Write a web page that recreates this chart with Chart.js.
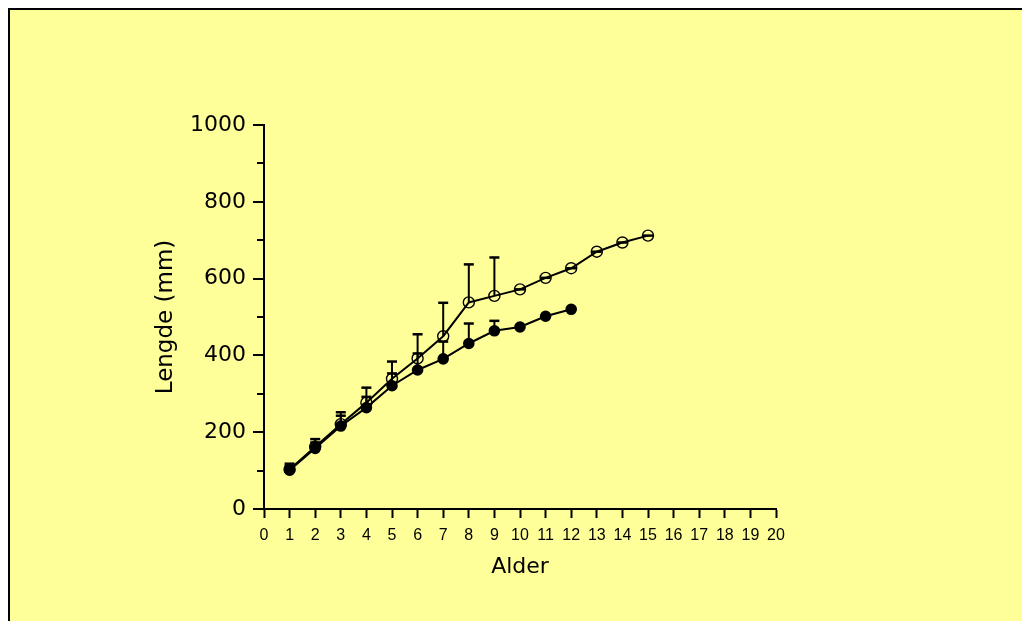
<!DOCTYPE html>
<html>
<head>
<meta charset="utf-8">
<script src="https://cdn.jsdelivr.net/npm/chart.js@4.4.1/dist/chart.umd.min.js"></script>
<style>
  html, body { margin: 0; padding: 0; background: #fff; }
  #wrap { width: 1022px; height: 621px; position: relative; }
</style>
</head>
<body>
<div id="wrap"><canvas id="vekst"></canvas></div>
<script>
// Alder (år)
const alderA = [1, 2, 3, 4, 5, 6, 7, 8, 9, 10, 11, 12, 13, 14, 15];
const alderB = [1, 2, 3, 4, 5, 6, 7, 8, 9, 10, 11, 12];

// Gjennomsnittlig lengde (mm) - åpne sirkler
const lengdeA = [103, 162, 221, 277, 339, 392, 450, 538, 555, 572, 602, 627, 670, 694, 712];
const sdA = [15, 20, 31, 39, 45, 63, 87, 99, 100, 0, 0, 0, 0, 0, 0];

// Gjennomsnittlig lengde (mm) - fylte sirkler
const lengdeB = [101, 158, 216, 264, 321, 362, 391, 431, 464, 474, 502, 520];
const sdB = [11, 15, 27, 28, 32, 43, 45, 52, 26, 0, 0, 0];

const toPts = (xs, ys) => xs.map((x, i) => ({ x: x, y: ys[i] }));
const BRED = "'DejaVu Sans', sans-serif";
const SMAL = "'Liberation Sans', Arial, sans-serif";

// bakgrunnspanel
const panel = {
  id: 'panel',
  beforeDraw(chart) {
    const c = chart.ctx;
    c.save();
    c.fillStyle = '#ffffff';
    c.fillRect(0, 0, chart.width, chart.height);
    c.fillStyle = '#ffff99';
    c.fillRect(8, 8, chart.width - 8, chart.height - 8);
    c.strokeStyle = '#000';
    c.lineWidth = 2;
    c.beginPath();
    c.moveTo(9, chart.height);
    c.lineTo(9, 9);
    c.lineTo(chart.width, 9);
    c.stroke();
    c.restore();
  }
};

// y-aksens hoved- og hjelpestreker
const yTicks = {
  id: 'yTicks',
  afterDraw(chart) {
    const c = chart.ctx, y = chart.scales.y;
    const left = chart.chartArea.left;
    c.save();
    c.strokeStyle = '#000';
    c.lineWidth = 2;
    for (let v = 0; v <= 1000; v += 100) {
      const py = Math.round(y.getPixelForValue(v));
      const len = v % 200 === 0 ? 11 : 7;
      c.beginPath();
      c.moveTo(left - len, py);
      c.lineTo(left, py);
      c.stroke();
    }
    c.restore();
  }
};

// feilstolper (kun opp)
const feil = {
  id: 'feil',
  afterDatasetsDraw(chart) {
    const c = chart.ctx, xs = chart.scales.x, ys = chart.scales.y;
    const sett = [[alderA, lengdeA, sdA], [alderB, lengdeB, sdB]];
    c.save();
    c.strokeStyle = '#000';
    sett.forEach(([ax, ly, sd]) => {
      ax.forEach((a, i) => {
        const px = xs.getPixelForValue(a);
        const p0 = ys.getPixelForValue(ly[i]);
        const p1 = ys.getPixelForValue(ly[i] + sd[i]);
        c.lineWidth = 2;
        c.beginPath();
        c.moveTo(px, p0);
        c.lineTo(px, p1);
        c.stroke();
        c.lineWidth = 2.5;
        c.beginPath();
        c.moveTo(px - 5, p1);
        c.lineTo(px + 5, p1);
        c.stroke();
      });
    });
    c.restore();
  }
};

new Chart(document.getElementById('vekst'), {
  type: 'line',
  data: {
    datasets: [
      {
        label: 'A',
        data: toPts(alderA, lengdeA),
        borderColor: '#000',
        borderWidth: 2,
        pointRadius: 5.5,
        pointBorderWidth: 1.4,
        pointBackgroundColor: 'rgba(0,0,0,0)',
        pointBorderColor: '#000',
        tension: 0
      },
      {
        label: 'B',
        data: toPts(alderB, lengdeB),
        borderColor: '#000',
        borderWidth: 2,
        pointRadius: 4.8,
        pointBackgroundColor: '#000',
        pointBorderColor: '#000',
        tension: 0
      }
    ]
  },
  options: {
    responsive: true,
    maintainAspectRatio: false,
    animation: false,
    layout: { padding: { left: 152, right: 246, top: 125, bottom: 37 } },
    plugins: { legend: { display: false }, tooltip: { enabled: false } },
    scales: {
      x: {
        type: 'linear',
        min: 0,
        max: 20,
        afterFit: s => { s.height = 75; },
        border: { display: true, color: '#000', width: 2 },
        grid: { drawOnChartArea: false, tickLength: 9, tickColor: '#000', tickWidth: 2 },
        ticks: {
          stepSize: 1,
          color: '#000',
          padding: 8,
          maxRotation: 0,
          autoSkip: false,
          font: { family: SMAL, size: 16 }
        },
        title: {
          display: true,
          text: 'Alder',
          color: '#000',
          padding: { top: 11 },
          font: { family: BRED, size: 22 }
        }
      },
      y: {
        min: 0,
        max: 1000,
        afterFit: s => { s.width = 112; },
        border: { display: true, color: '#000', width: 2 },
        grid: { display: false, drawOnChartArea: false, tickLength: 11 },
        ticks: {
          stepSize: 200,
          color: '#000',
          padding: 7,
          callback: v => String(v),
          font: { family: BRED, size: 22 }
        },
        title: {
          display: true,
          text: 'Lengde (mm)',
          color: '#000',
          padding: 0,
          font: { family: BRED, size: 23 }
        }
      }
    }
  },
  plugins: [panel, yTicks, feil]
});
</script>
</body>
</html>
